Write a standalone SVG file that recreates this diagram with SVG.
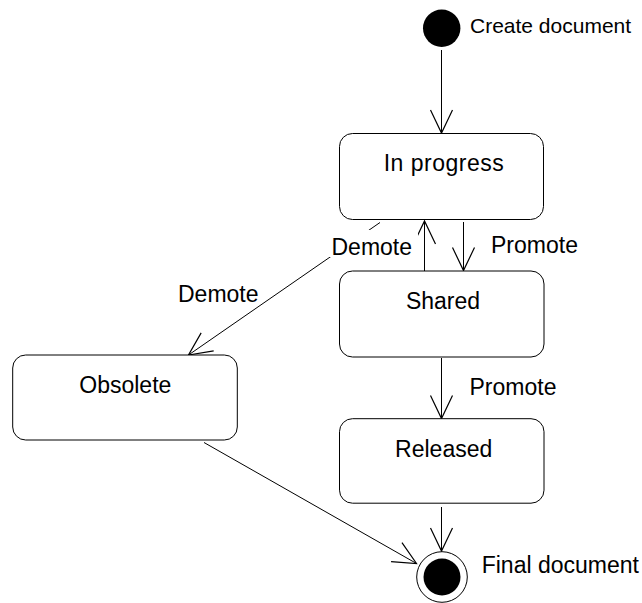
<svg xmlns="http://www.w3.org/2000/svg" width="642" height="603" viewBox="0 0 642 603">
  <style>
    .state { fill: #ffffff; stroke: #000000; stroke-width: 1; }
    .lbl { font-family: "Liberation Sans", Arial, sans-serif; font-size: 23px; fill: #000000; }
    .mid { text-anchor: middle; }
    .edge { fill: none; stroke: #000000; stroke-width: 1; }
  </style>
  <defs>
    <marker id="open" markerUnits="userSpaceOnUse" markerWidth="30" markerHeight="30" viewBox="-26 -15 30 30" refX="0" refY="0" orient="auto" overflow="visible">
      <path d="M-23,-11 L0,0 L-23,11" fill="none" stroke="#000000" stroke-width="1.2"/>
    </marker>
  </defs>

  <g id="connectors">
    <line class="edge" x1="441.5" y1="50" x2="441.5" y2="133" marker-end="url(#open)"/>
    <line class="edge" x1="463.5" y1="222" x2="463.5" y2="270.5" marker-end="url(#open)"/>
    <line class="edge" x1="424.5" y1="271" x2="424.5" y2="221" marker-end="url(#open)"/>
    <line class="edge" x1="380" y1="222.5" x2="188.5" y2="355" marker-end="url(#open)"/>
    <line class="edge" x1="441.5" y1="358" x2="441.5" y2="418.5" marker-end="url(#open)"/>
    <line class="edge" x1="441.5" y1="507" x2="441.5" y2="551" marker-end="url(#open)"/>
    <line class="edge" x1="204" y1="442.5" x2="416.5" y2="563.5" marker-end="url(#open)"/>
    <g id="edge-labels">
      <rect x="329" y="230" width="89" height="27" fill="#ffffff"/>
      <text class="lbl" x="331.5" y="255">Demote</text>
      <text class="lbl" x="491" y="253">Promote</text>
      <text class="lbl" x="178" y="301.5">Demote</text>
      <text class="lbl" x="469.5" y="395">Promote</text>
    </g>
  </g>

  <g id="initial">
    <circle cx="441.7" cy="28.2" r="18.7" fill="#000000"/>
    <text class="lbl" x="470" y="32.5" style="font-size:21px">Create document</text>
  </g>

  <g id="in-progress">
    <rect class="state" x="339.5" y="133.5" width="204" height="86" rx="13" ry="13"/>
    <text class="lbl mid" x="444" y="171" letter-spacing="0.5">In progress</text>
  </g>

  <g id="shared">
    <rect class="state" x="339.5" y="271" width="204.5" height="86" rx="13" ry="13"/>
    <text class="lbl mid" x="443" y="308.7">Shared</text>
  </g>

  <g id="released">
    <rect class="state" x="339.5" y="418.7" width="204.5" height="84.5" rx="13" ry="13"/>
    <text class="lbl mid" x="443.7" y="456.7">Released</text>
  </g>

  <g id="obsolete">
    <rect class="state" x="12.7" y="355" width="224.6" height="85" rx="13" ry="13"/>
    <text class="lbl mid" x="125.3" y="393.3">Obsolete</text>
  </g>

  <g id="final">
    <circle cx="442" cy="577" r="25.3" fill="#ffffff" stroke="#000000" stroke-width="1"/>
    <circle cx="442" cy="577" r="18.5" fill="#000000"/>
    <text class="lbl" x="481.7" y="573">Final document</text>
  </g>
</svg>
